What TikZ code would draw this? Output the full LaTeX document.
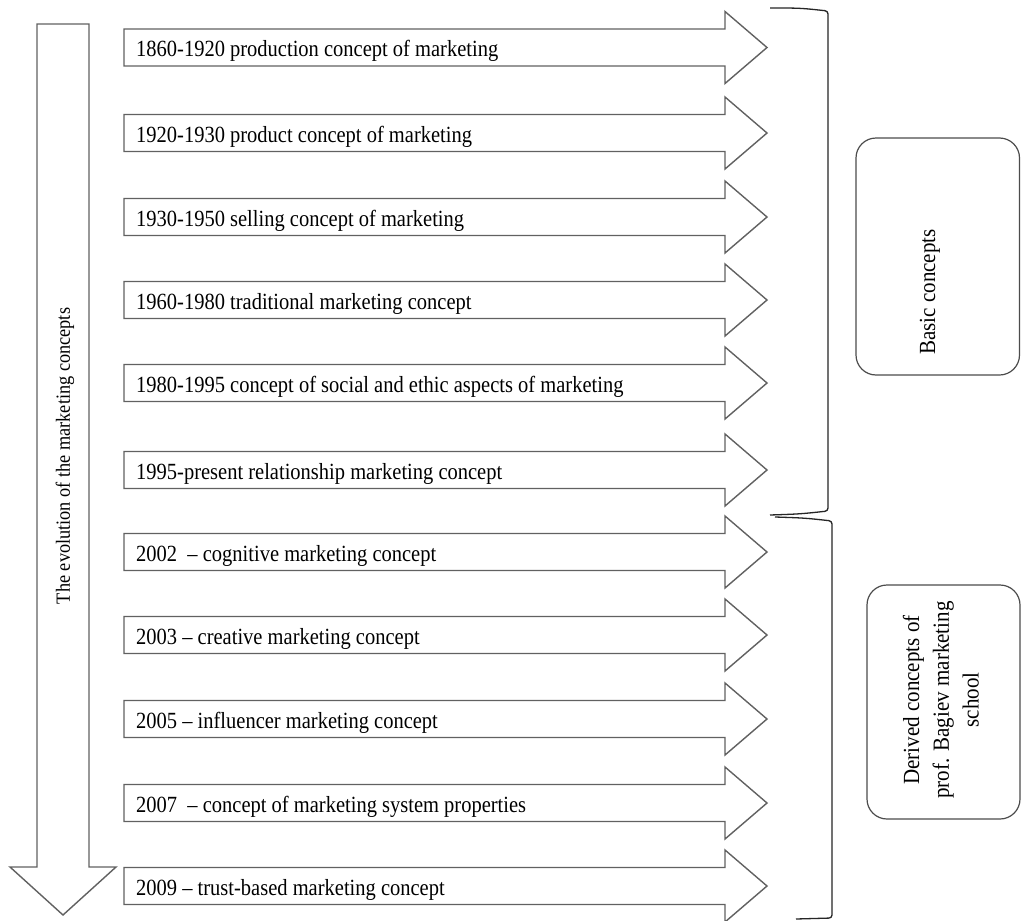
\documentclass[tikz,border=0pt]{standalone}
\usepackage{fontspec}
\setmainfont{Liberation Serif}
\begin{document}
\begin{tikzpicture}[x=1pt,y=-1pt,
  arrowshape/.style={draw=black!62, line width=1.4pt, line join=miter, fill=white},
  rowtext/.style={anchor=base west, inner sep=0pt, font=\fontsize{20.5}{24}\selectfont},
  bracket/.style={draw=black!85, line width=1.3pt, rounded corners=3pt},
  sidebox/.style={draw=black!70, line width=1.2pt, rounded corners=20pt},
  sidetext/.style={rotate=90, inner sep=0pt, align=center, font=\fontsize{21}{27}\selectfont}]
\useasboundingbox (0,0) rectangle (1021,921);
\fill[white] (0,0) rectangle (1021,921);
% vertical arrow
\draw[arrowshape] (37,24) -- (89,24) -- (89,867) -- (116,867) -- (63,915) -- (10,867) -- (37,867) -- cycle;
\node[rotate=90, inner sep=0pt, font=\fontsize{18.3}{22}\selectfont] (evo) at (65,456) {\scalebox{1}[1.1]{The evolution of the marketing concepts}};
% horizontal arrows
\foreach \i/\yc/\txt in {
  1/47.5/{1860-1920 production concept of marketing},
  2/133/{1920-1930 product concept of marketing},
  3/217/{1930-1950 selling concept of marketing},
  4/300/{1960-1980 traditional marketing concept},
  5/383/{1980-1995 concept of social and ethic aspects of marketing},
  6/470/{1995-present relationship marketing concept},
  7/552/{2002\ \ -- cognitive marketing concept},
  8/635/{2003 -- creative marketing concept},
  9/719/{2005 -- influencer marketing concept},
  10/803/{2007\ \ -- concept of marketing system properties},
  11/886/{2009 -- trust-based marketing concept}} {
  \draw[arrowshape] (124,\yc-18.5) -- (725,\yc-18.5) -- (725,\yc-36) -- (767,\yc)
     -- (725,\yc+36) -- (725,\yc+18.5) -- (124,\yc+18.5) -- cycle;
  \begin{scope}
    \clip (125,\yc-17.5) rectangle (724,\yc+16);
    \node[rowtext] (t\i) at (136,\yc+9) {\scalebox{1}[1.13]{\txt}};
  \end{scope}
}
% brackets
\draw[bracket] (770,8) .. controls (800,8) .. (828,11) -- (828,511) .. controls (800,514) .. (770,515);
\draw[bracket] (775,517) .. controls (805,518) .. (832,521) -- (832,918) -- (796,919);
% side boxes
\draw[sidebox] (856,138) rectangle (1019.5,375);
\node[sidetext] (basic) at (930,292) {\scalebox{1}[1.1]{Basic concepts}};
\draw[sidebox] (867,585) rectangle (1020,819);
\node[sidetext] (derived) at (943,700) {\scalebox{1}[1.1]{\begin{tabular}{@{}c@{}}Derived concepts of\\prof. Bagiev marketing\\school\end{tabular}}};
\end{tikzpicture}
\end{document}
